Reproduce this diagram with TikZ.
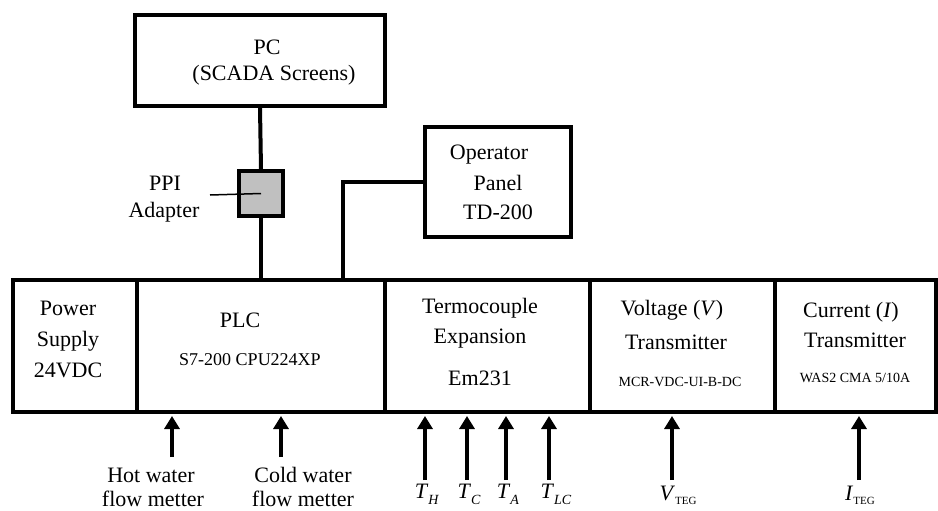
\documentclass[tikz,border=0pt]{standalone}
\usepackage{fontspec}
\setmainfont{Liberation Serif}
\usetikzlibrary{arrows.meta}
\tikzset{
  blk/.style={draw=black, line width=4pt, rectangle, inner sep=0pt},
  lbl/.style={inner sep=0pt, align=center, font=\fontsize{22}{29}\selectfont},
  inlbl/.style={inner sep=0pt, font=\fontsize{22}{22}\selectfont},
  sml/.style={inner sep=0pt, align=center, font=\fontsize{14}{17}\selectfont},
  mid/.style={inner sep=0pt, align=center, font=\fontsize{18}{22}\selectfont},
  wire/.style={line width=4pt},
  arr/.style={line width=4pt, -{Triangle[length=13pt,width=15pt]}},
}
\newcommand{\subs}[1]{\raisebox{-0.28em}{\fontsize{14}{14}\selectfont #1}}
\newcommand{\subu}[1]{\raisebox{-0.2em}{\fontsize{11}{11}\selectfont #1}}
\begin{document}
\begin{tikzpicture}[x=1pt,y=-1pt]
\useasboundingbox (0,0) rectangle (938,511);
% top boxes
\node[blk, minimum width=250pt, minimum height=91pt] (pc) at (260,60.5) {};
\node[lbl] (pct1) at (267,47) {PC};
\node[lbl] (pct2) at (274,75) {(SCADA Screens)};
\node[blk, fill={rgb,255:red,192;green,192;blue,192}, minimum width=44pt, minimum height=45pt] (ppi) at (261,193.5) {};
\node[lbl] (ppit1) at (165,183) {PPI};
\node[lbl] (ppit2) at (164,212) {Adapter};
\node[blk, minimum width=146pt, minimum height=110pt] (op) at (498,182) {};
\node[lbl] (opt1) at (489,155) {Operator};
\node[lbl] (opt2) at (498,183) {Panel};
\node[lbl] (opt3) at (498,212) {TD-200};
% bottom row
\node[blk, minimum width=124pt, minimum height=132pt] (ps) at (75,346) {};
\node[blk, minimum width=248pt, minimum height=132pt] (plc) at (261,346) {};
\node[blk, minimum width=205pt, minimum height=132pt] (tc) at (487.5,346) {};
\node[blk, minimum width=185pt, minimum height=132pt] (vt) at (682.5,346) {};
\node[blk, minimum width=161pt, minimum height=132pt] (ct) at (855.5,346) {};
\node[lbl, font=\fontsize{22}{31}\selectfont] (pst) at (68,339) {Power\\Supply\\24VDC};
\node[lbl] (plct1) at (240,320) {PLC};
\node[mid] (plct2) at (250,360) {S7-200 CPU224XP};
\node[lbl] (tct1) at (480,308) {Termocouple};
\node[lbl] (tct2) at (480,339) {Expansion};
\node[lbl] (tct3) at (480,378) {Em231};
\node[lbl] (vtt1) at (672,310) {Voltage (\textit{V})};
\node[lbl] (vtt2) at (676,342) {Transmitter};
\node[sml] (vtt3) at (680,382) {MCR-VDC-UI-B-DC};
\node[lbl] (ctt1) at (851,312) {Current (\textit{I})};
\node[lbl] (ctt2) at (855,340) {Transmitter};
\node[sml] (ctt3) at (855,378) {WAS2 CMA 5/10A};
% connectors
\draw[wire] (pc.south) -- (ppi.north);
\draw[wire] (ppi.south) -- (ppi.south |- plc.north);
\coordinate (opdrop) at (343,280);
\draw[wire] (op.west) -| (opdrop);
\coordinate (ppilab) at (210,195);
\draw[line width=1.5pt] (ppilab) -- (ppi.center);
% input arrows
\coordinate (hw) at (172,457);
\coordinate (cw) at (281,457);
\coordinate (th) at (425,480);
\coordinate (tcc) at (467,480);
\coordinate (ta) at (506,480);
\coordinate (tlc) at (549,480);
\coordinate (vin) at (672,480);
\coordinate (iin) at (859,480);
\foreach \c/\n in {hw/plc,cw/plc,th/tc,tcc/tc,ta/tc,tlc/tc,vin/vt,iin/ct}
  \draw[arr] (\c) -- ([yshift=-2pt]\c |- \n.south);
\node[inlbl, anchor=base] (hwt) at (151,482) {Hot water};
\node[inlbl, anchor=base] (hwt2) at (153,506) {flow metter};
\node[inlbl, anchor=base] (cwt) at (303,482) {Cold water};
\node[inlbl, anchor=base] (cwt2) at (303,506) {flow metter};
\node[lbl, anchor=base] (tht) at (427,498) {\textit{T}\subs{\textit{H}}};
\node[lbl, anchor=base] (tct) at (469,498) {\textit{T}\subs{\textit{C}}};
\node[lbl, anchor=base] (tat) at (508,498) {\textit{T}\subs{\textit{A}}};
\node[lbl, anchor=base] (tlct) at (556,498) {\textit{T}\subs{\textit{LC}}};
\node[lbl, anchor=base] (vint) at (678,500) {\textit{V}\subu{TEG}};
\node[lbl, anchor=base] (iint) at (860,500) {\textit{I}\subu{TEG}};
\end{tikzpicture}
\end{document}
